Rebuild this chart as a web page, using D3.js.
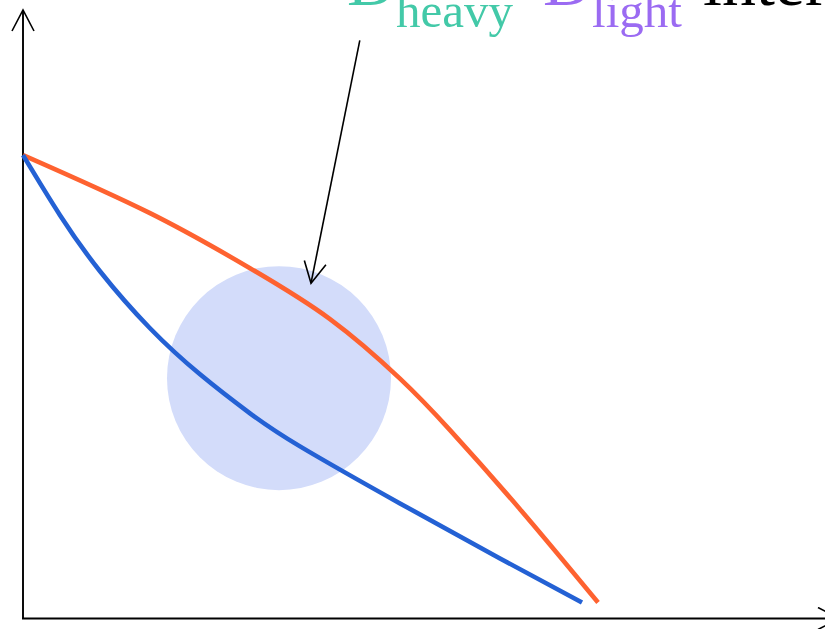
<!DOCTYPE html>
<html>
<head>
<meta charset="utf-8">
<script src="https://cdn.jsdelivr.net/npm/d3@7"></script>
<style>
  html, body { margin: 0; padding: 0; background: #fff; }
  svg { display: block; }
</style>
</head>
<body>
<svg id="chart" width="825" height="629"></svg>
<script>
// Two decreasing curves sharing a starting point, in axis units (0-100 on both axes)
const heavyX = [0, 15.875, 28.375, 38.375, 47.125, 53.375, 62.125, 71.875];
const heavyY = [76.15, 66.61, 57.57, 49.2, 39.42, 30.96, 17.96, 2.63];
const lightX = [0, 4.625, 9.625, 15.875, 22.125, 28.375, 34.625, 47.125, 59.625, 69.875];
const lightY = [76.15, 66.28, 57.07, 47.70, 40.13, 33.72, 28.29, 18.91, 9.87, 2.63];

// Highlighted overlap region (centre in axis units, radius in x units)
const regionCenter = [32.0, 39.5];
const regionRadius = 14.0;

// Callout arrow: from the title area down to the upper curve
const calloutFrom = [42.1, 95.0];
const calloutTo = [36.0, 55.1];

// Title pieces: main letter with a subscript
const titleParts = [
  { main: "D", sub: "heavy", color: "#43c9a8" },
  { main: "D", sub: "light", color: "#9b6bf2" },
  { main: "interaction", sub: "", color: "#000000" }
];

const svg = d3.select("#chart");

const x = d3.scaleLinear().domain([0, 100]).range([23, 823]);
const y = d3.scaleLinear().domain([0, 100]).range([618.5, 10]);

const defs = svg.append("defs");
defs.append("marker")
  .attr("id", "open-arrow")
  .attr("viewBox", "-24 -12 26 24")
  .attr("refX", 0).attr("refY", 0)
  .attr("markerWidth", 26).attr("markerHeight", 24)
  .attr("markerUnits", "userSpaceOnUse")
  .attr("orient", "auto")
  .append("path")
  .attr("d", "M-21,-11 L0,0 L-21,11")
  .attr("fill", "none")
  .attr("stroke", "#000")
  .attr("stroke-width", 1.6);

// Highlight circle
svg.append("circle")
  .attr("cx", x(regionCenter[0]))
  .attr("cy", y(regionCenter[1]))
  .attr("r", x(regionRadius) - x(0))
  .attr("fill", "#d3dcfa");

// Axes without ticks: just the domain lines ending in open arrows
const xAxis = d3.axisBottom(x).ticks(0).tickSizeOuter(0);
const yAxis = d3.axisLeft(y).ticks(0).tickSizeOuter(0);

const gx = svg.append("g").attr("transform", `translate(0,${y(0)})`).call(xAxis);
const gy = svg.append("g").attr("transform", `translate(${x(0)},0)`).call(yAxis);
gx.select(".domain").attr("d", `M${x(0) - 1},0H${x(102)}`);
gy.select(".domain").attr("d", `M0,${y(0)}V${y(100)}`);
[gx, gy].forEach(g => g.select(".domain")
  .attr("stroke", "#000")
  .attr("stroke-width", 1.9)
  .attr("marker-end", "url(#open-arrow)"));

// Curves
const line = d3.line()
  .x(d => x(d[0]))
  .y(d => y(d[1]))
  .curve(d3.curveNatural);

svg.append("path")
  .datum(heavyX.map((v, i) => [v, heavyY[i]]))
  .attr("d", line)
  .attr("fill", "none")
  .attr("stroke", "#fe6230")
  .attr("stroke-width", 4.6);

svg.append("path")
  .datum(lightX.map((v, i) => [v, lightY[i]]))
  .attr("d", line)
  .attr("fill", "none")
  .attr("stroke", "#2461d4")
  .attr("stroke-width", 4.6);

// Callout arrow
svg.append("line")
  .attr("x1", x(calloutFrom[0])).attr("y1", y(calloutFrom[1]))
  .attr("x2", x(calloutTo[0])).attr("y2", y(calloutTo[1]))
  .attr("stroke", "#000")
  .attr("stroke-width", 1.6)
  .attr("marker-end", "url(#open-arrow)");

// Title with subscripts
const partX = [347, 543, 703];
titleParts.forEach((p, i) => {
  const t = svg.append("text")
    .attr("x", partX[i])
    .attr("y", 5)
    .attr("font-family", "'Liberation Serif', 'Times New Roman', serif")
    .attr("fill", p.color);
  t.append("tspan").attr("font-size", 68).text(p.main);
  if (p.sub) {
    t.append("tspan")
      .attr("font-size", 49)
      .attr("dy", 22)
      .text(p.sub);
  }
});
</script>
</body>
</html>
